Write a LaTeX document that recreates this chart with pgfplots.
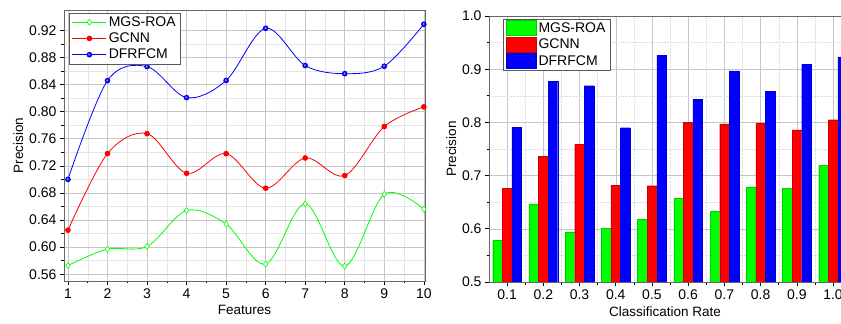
\documentclass[border=0pt]{standalone}
\usepackage{pgfplots}
\pgfplotsset{compat=1.18}
\usepackage{fontspec}
\setmainfont{Liberation Sans}
\definecolor{cg}{RGB}{0,255,0}
\definecolor{cr}{RGB}{255,0,0}
\definecolor{cb}{RGB}{0,0,255}
\begin{document}
\begin{tikzpicture}
\useasboundingbox (0,0) rectangle (841pt,324pt);
\pgfplotsset{
  every axis/.append style={
    scale only axis, anchor=south west,
    font=\fontsize{14}{16}\selectfont,
    tick label style={font=\fontsize{14}{16}\selectfont},
    label style={font=\fontsize{13.5}{16}\selectfont},
    /pgf/number format/assume math mode=true,
    tick align=outside, tick pos=left,
    major tick length=4pt, minor tick length=2.5pt,
    tick style={black, line width=0.6pt},
    axis line style={line width=0.8pt, gray!80!black},
    grid=both,
    major grid style={gray!45, line width=0.5pt},
    minor grid style={gray!20, line width=0.4pt},
    legend cell align=left,
  }
}
% Left chart
\begin{axis}[
  at={(64pt,43pt)}, width=361pt, height=271pt,
  xmin=0.9, xmax=10.03, ymin=0.55, ymax=0.95,
  xtick={1,...,10}, minor x tick num=1,
  ytick={0.56,0.60,...,0.93}, minor y tick num=1,
  yticklabel style={/pgf/number format/.cd, fixed, fixed zerofill, precision=2},
  xlabel={Features}, ylabel={Precision},
  xlabel style={yshift=0pt}, ylabel style={yshift=-1pt},
  legend style={at={(0.013,0.99)}, anchor=north west, draw=gray!70!black, line width=0.6pt,
    inner xsep=3pt, inner ysep=1.5pt, row sep=1pt, font=\fontsize{14}{16}\selectfont},
  legend image code/.code={
    \draw[#1, mark repeat=2, mark phase=2] plot coordinates {(0pt,0pt) (17pt,0pt) (34pt,0pt)};},
]
\addplot[cg, line width=0.8pt, smooth, tension=0.55, mark=diamond*, mark size=3pt,
  mark options={fill=white, draw=cg, line width=0.6pt}] coordinates {
(1,0.573) (2,0.597) (3,0.601) (4,0.654) (5,0.634) (6,0.575) (7,0.664) (8,0.572) (9,0.678) (10,0.656)};
\addlegendentry{MGS-ROA}
\addplot[cr, line width=0.8pt, smooth, tension=0.55, mark=*, mark size=2.4pt,
  mark options={fill=cr, draw=cr}] coordinates {
(1,0.625) (2,0.738) (3,0.7675) (4,0.709) (5,0.738) (6,0.687) (7,0.7316) (8,0.7056) (9,0.778) (10,0.807)};
\addlegendentry{GCNN}
\addplot[cb, line width=0.8pt, smooth, tension=0.55, mark=ball, mark size=2.4pt,
  mark options={ball color=cb}] coordinates {
(1,0.700) (2,0.8457) (3,0.8664) (4,0.8207) (5,0.846) (6,0.923) (7,0.868) (8,0.856) (9,0.867) (10,0.929)};
\addlegendentry{DFRFCM}
\end{axis}
% Right chart
\begin{axis}[
  at={(489pt,42pt)}, width=352pt, height=266pt,
  xmin=0.05, xmax=1.022, ymin=0.5, ymax=1.0,
  ybar=0pt, bar width=9.6pt,
  xtick={0.1,0.2,...,1.01}, minor x tick num=1,
  ytick={0.5,0.6,...,1.01}, minor y tick num=1,
  xticklabel style={/pgf/number format/.cd, fixed, fixed zerofill, precision=1},
  yticklabel style={/pgf/number format/.cd, fixed, fixed zerofill, precision=1},
  minor grid style={gray!25, densely dotted, line width=0.4pt},
  xlabel={Classification Rate}, ylabel={Precision},
  xlabel style={yshift=0pt}, ylabel style={yshift=-1pt},
  legend style={at={(0.04,0.99)}, anchor=north west, draw=gray!70!black, line width=0.6pt,
    inner xsep=3pt, inner ysep=1pt, row sep=1pt, font=\fontsize{14}{16}\selectfont},
  legend image code/.code={
    \fill[#1] (0pt,-7pt) rectangle (30pt,8pt);},
]
\addplot[fill=cg, draw=cg!80!black, line width=0.2pt] coordinates {
(0.1,0.578) (0.2,0.647) (0.3,0.594) (0.4,0.601) (0.5,0.618) (0.6,0.657) (0.7,0.633) (0.8,0.679) (0.9,0.676) (1.0,0.719)};
\addlegendentry{MGS-ROA}
\addplot[fill=cr, draw=cr!80!black, line width=0.2pt] coordinates {
(0.1,0.676) (0.2,0.736) (0.3,0.759) (0.4,0.682) (0.5,0.681) (0.6,0.800) (0.7,0.797) (0.8,0.799) (0.9,0.786) (1.0,0.805)};
\addlegendentry{GCNN}
\addplot[fill=cb, draw=cb!80!black, line width=0.2pt] coordinates {
(0.1,0.791) (0.2,0.877) (0.3,0.869) (0.4,0.790) (0.5,0.926) (0.6,0.843) (0.7,0.897) (0.8,0.858) (0.9,0.909) (1.0,0.923)};
\addlegendentry{DFRFCM}
\end{axis}
\end{tikzpicture}
\end{document}
